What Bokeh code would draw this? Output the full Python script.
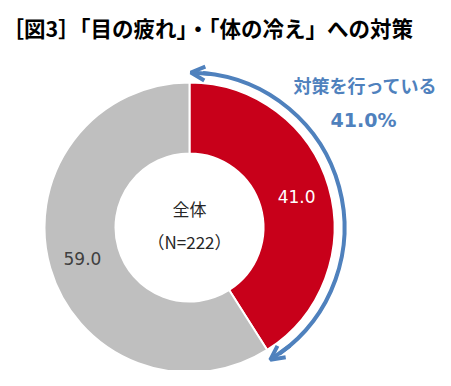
import math
from bokeh.plotting import figure
from bokeh.models import Range1d, Arrow, OpenHead, ColumnDataSource
from bokeh.core.properties import value
from bokeh.embed import file_html
from bokeh.resources import INLINE

# ---- data ----
categories = ["対策を行っている", "対策を行っていない"]
shares = [41.0, 59.0]
slice_colors = ["#C8001A", "#BFBFBF"]
label_colors = ["#FFFFFF", "#404040"]
title_text = "［図3］「目の疲れ」・「体の冷え」への対策"
center_lines = ["全体", "（N=222）"]
callout_lines = ["対策を行っている", "41.0%"]

W, H = 440, 370
p = figure(width=W, height=H, output_backend="svg", toolbar_location=None,
           x_range=Range1d(0, W), y_range=Range1d(386 - H, 386),
           min_border=0, outline_line_color=None, background_fill_color="white")
p.axis.visible = False
p.grid.visible = False

def py(y):
    return 386 - y

cx, cy = 189, py(227)
r_in, r_out = 74, 145

# wedges: start at top, going clockwise
total = sum(shares)
starts, ends, mids = [], [], []
acc = 0.0
for s in shares:
    a0 = math.pi / 2 - 2 * math.pi * (acc + s) / total
    a1 = math.pi / 2 - 2 * math.pi * acc / total
    starts.append(a0)
    ends.append(a1)
    mids.append((a0 + a1) / 2)
    acc += s

src = ColumnDataSource(dict(start=starts, end=ends, color=slice_colors))
p.annular_wedge(x=cx, y=cy, inner_radius=r_in, outer_radius=r_out,
                start_angle="start", end_angle="end", fill_color="color",
                line_color="white", line_width=2, source=src)

# slice labels
r_lab = (r_in + r_out) / 2 + 2
lx = [cx + r_lab * math.cos(m) for m in mids]
ly = [cy + r_lab * math.sin(m) for m in mids]
lsrc = ColumnDataSource(dict(x=lx, y=ly, t=[f"{v:.1f}" for v in shares], c=label_colors))
p.text(x="x", y="y", text="t", text_color="c", source=lsrc,
       text_font=value("DejaVu Sans"), text_font_size="17px",
       text_align="center", text_baseline="middle")

# center labels
p.text(x=[cx, cx], y=[py(208), py(241)], text=center_lines,
       text_font=value("Noto Sans CJK JP"), text_font_size="17px",
       text_color="#262626", text_align="center", text_baseline="middle")

# title
p.text(x=[2], y=[py(27)], text=[title_text],
       text_font=value("Noto Sans CJK JP"), text_font_size="21.5px",
       text_font_style="bold", text_color="#000000",
       text_align="left", text_baseline="middle")

# callout
blue = "#4F81BD"
p.text(x=[365], y=[py(84)], text=[callout_lines[0]],
       text_font=value("Noto Sans CJK JP"), text_font_size="18px",
       text_font_style="bold", text_color=blue,
       text_align="center", text_baseline="middle")
p.text(x=[363], y=[py(119)], text=[callout_lines[1]],
       text_font=value("DejaVu Sans"), text_font_size="19px",
       text_font_style="bold", text_color=blue,
       text_align="center", text_baseline="middle")

# arc arrow spanning the 41% slice
R = 155
span_deg = 360 * shares[0] / total
def pt(theta_deg):
    a = math.pi / 2 - math.radians(theta_deg)
    return cx + R * math.cos(a), cy + R * math.sin(a)

p.arc(x=cx, y=cy, radius=R, start_angle=math.pi / 2 - math.radians(span_deg - 3),
      end_angle=math.pi / 2 - math.radians(5), direction="anticlock",
      line_color=blue, line_width=4)
for tail, tip in [(8, 0.5), (span_deg - 8, span_deg + 1)]:
    x0, y0 = pt(tail)
    x1, y1 = pt(tip)
    p.add_layout(Arrow(x_start=x0, y_start=y0, x_end=x1, y_end=y1,
                       line_color=blue, line_width=4,
                       end=OpenHead(size=14, line_color=blue, line_width=4)))

open("out.html", "w").write(file_html(p, INLINE))
